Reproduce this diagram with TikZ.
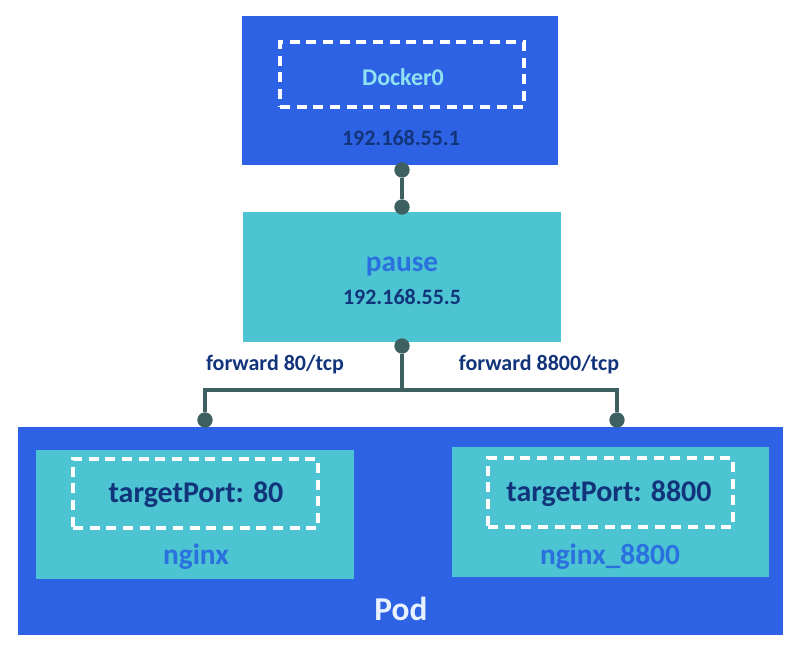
\documentclass[tikz,border=0pt]{standalone}
\usepackage{fontspec}
\setmainfont{Carlito}

\definecolor{podblue}{RGB}{46,98,228}
\definecolor{boxcyan}{RGB}{76,196,210}
\definecolor{navytext}{RGB}{18,52,122}
\definecolor{bluetext}{RGB}{42,112,222}
\definecolor{lighttext}{RGB}{142,226,242}
\definecolor{podtext}{RGB}{232,242,255}
\definecolor{linkgray}{RGB}{62,96,96}

\tikzset{
  bluebox/.style={draw=none, fill=podblue, inner sep=0pt},
  cyanbox/.style={draw=none, fill=boxcyan, inner sep=0pt},
  portbox/.style={draw=white, line width=3pt, dash pattern=on 7.5pt off 5pt, inner sep=0pt},
  link/.style={draw=linkgray, line width=2.6pt},
  knob/.style={circle, fill=linkgray, inner sep=0pt, minimum size=11.5pt},
  lbl/.style={font=\bfseries\fontsize{16.5pt}{19pt}\selectfont, text=navytext},
  porttext/.style={font=\bfseries\fontsize{22.5pt}{26pt}\selectfont, text=navytext},
  nametext/.style={font=\bfseries\fontsize{22pt}{26pt}\selectfont, text=bluetext}
}

\begin{document}
\begin{tikzpicture}[x=0.75pt, y=-0.75pt]
    \useasboundingbox (0,0) rectangle (804,657);

    % boxes
    \node[bluebox, minimum width=237pt, minimum height=111.75pt] (docker) at (400,90.5) {};
    \node[portbox, minimum width=183pt, minimum height=48.75pt] (dockerport) at (402,74.5) {};
    \node[cyanbox, minimum width=238.5pt, minimum height=97.5pt] (pause) at (402,277) {};
    \node[bluebox, minimum width=573.75pt, minimum height=156pt] (pod) at (400.5,531) {};
    \node[cyanbox, minimum width=238.5pt, minimum height=96.75pt] (nginx) at (195,514.5) {};
    \node[portbox, minimum width=183.75pt, minimum height=51.75pt] (nginxport) at (195.5,493.5) {};
    \node[cyanbox, minimum width=237.75pt, minimum height=97.5pt] (nginxb) at (610.5,512) {};
    \node[portbox, minimum width=183.75pt, minimum height=51.75pt] (nginxbport) at (610.5,492.5) {};

    % texts
    \node[font=\bfseries\fontsize{18pt}{21pt}\selectfont, text=lighttext] (dockername) at (403,77) {Docker0};
    \node[lbl] (dockerip) at (401,138) {192.168.55.1};
    \node[nametext] (pausename) at (402,267) {pause};
    \node[lbl] (pauseip) at (402,297) {192.168.55.5};
    \node[lbl] (fwd80) at (275,365) {forward 80/tcp};
    \node[lbl] (fwd8800) at (539,365) {forward 8800/tcp};
    \node[porttext] (port80) at (196,495) {targetPort: 80};
    \node[nametext] (nginxname) at (196,557) {nginx};
    \node[porttext] (port8800) at (609,494) {targetPort: 8800};
    \node[nametext] (nginxbname) at (610,557) {nginx\_8800};
    \node[font=\bfseries\fontsize{25pt}{29pt}\selectfont, text=podtext] (podname) at (401,609) {Pod};

    % connectors
    \node[knob] (d1) at (402,170) {};
    \node[knob] (d2) at (402,207) {};
    \node[knob] (p1) at (402,346) {};
    \node[knob] (n1) at (205,420) {};
    \node[knob] (n2) at (617,420) {};
    \coordinate (split) at (402,390);
    \draw[link] (d1) -- (d2);
    \draw[link] (p1) -- (split);
    \draw[link] (n1) |- (split) -| (n2);
\end{tikzpicture}
\end{document}
